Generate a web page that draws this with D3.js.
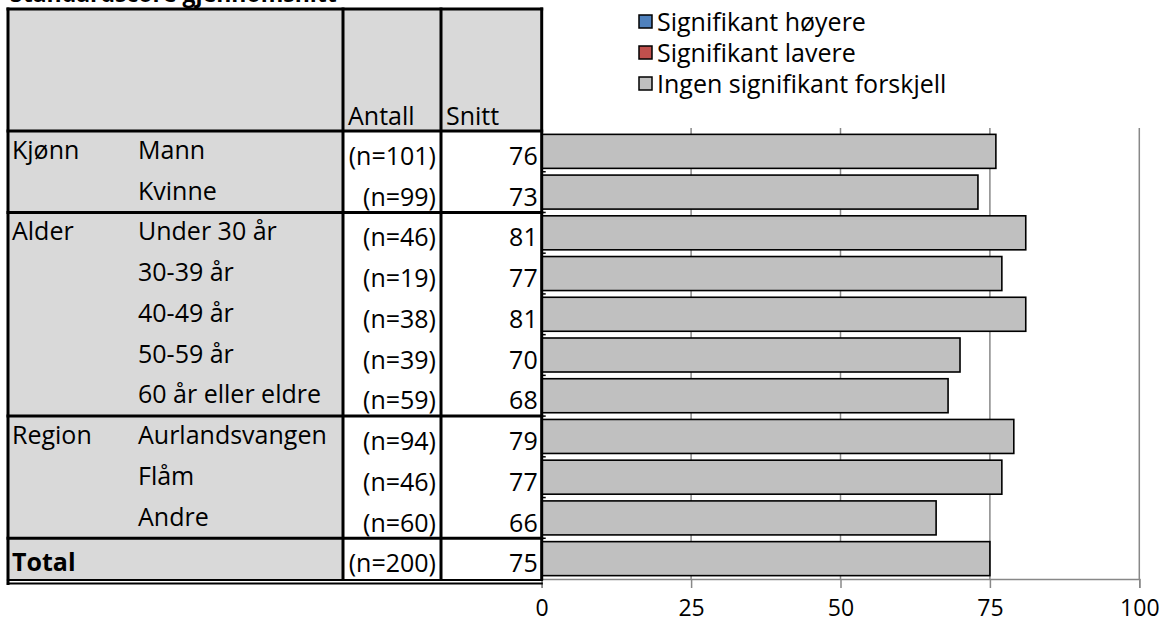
<!DOCTYPE html>
<html>
<head>
<meta charset="utf-8">
<script src="https://cdn.jsdelivr.net/npm/d3@7"></script>
<style>
  html, body { margin: 0; padding: 0; background: #fff; }
  svg { display: block; }
  text { font-family: "Open Sans", "Noto Sans", sans-serif; fill: #000; }
</style>
</head>
<body>
<svg id="chart" width="1162" height="624"></svg>
<script>
// Table and chart data
const groups   = ["Kjønn", "", "Alder", "", "", "", "", "Region", "", "", "Total"];
const labels   = ["Mann", "Kvinne", "Under 30 år", "30-39 år", "40-49 år", "50-59 år", "60 år eller eldre", "Aurlandsvangen", "Flåm", "Andre", ""];
const counts   = [101, 99, 46, 19, 38, 39, 59, 94, 46, 60, 200];
const scores   = [76, 73, 81, 77, 81, 70, 68, 79, 77, 66, 75];
const signif   = ["none", "none", "none", "none", "none", "none", "none", "none", "none", "none", "none"];
const groupEnds = [1, 6, 9];           // last row index of each group before the next one
const xTicks   = [0, 25, 50, 75, 100];
const legendKeys   = ["higher", "lower", "none"];
const legendLabels = ["Signifikant høyere", "Signifikant lavere", "Ingen signifikant forskjell"];
const headers  = ["Antall", "Snitt"];
const title    = "Standardscore gjennomsnitt";

const colors = { higher: "#4f81bd", lower: "#c0504d", none: "#c0c0c0" };

const svg = d3.select("#chart");

// layout
const tableLeft = 8, tableTop = 9, colA = 343, colB = 441;
const rowsTop = 131, rowsBottom = 579;
const idx = d3.range(scores.length);

const x = d3.scaleLinear().domain([0, 100]).range([541.7, 1139.3]);
const tableRight = x(0);
const rowBand = d3.scaleBand().domain(idx).range([rowsTop, rowsBottom]);
const barBand = d3.scaleBand().domain(idx).range([rowsTop, rowsBottom]).paddingInner(0.165).paddingOuter(0.0825);

// title (sits mostly above the top edge)
svg.append("text").attr("x", 10).attr("y", 1.5)
  .style("font-size", "23px").style("font-weight", "bold").text(title);

// table backgrounds
svg.append("rect").attr("x", tableLeft).attr("y", tableTop)
  .attr("width", tableRight - tableLeft).attr("height", rowsTop - tableTop).attr("fill", "#d9d9d9");
svg.append("rect").attr("x", tableLeft).attr("y", rowsTop)
  .attr("width", colA - tableLeft).attr("height", rowsBottom - rowsTop).attr("fill", "#d9d9d9");

// gridlines and x axis
const grid = svg.append("g");
grid.selectAll("line.grid").data(xTicks.filter(t => t > 0)).join("line")
  .attr("x1", d => x(d)).attr("x2", d => x(d))
  .attr("y1", 128).attr("y2", rowsBottom)
  .attr("stroke", "#888").attr("stroke-width", 1.5);

const xAxis = d3.axisBottom(x).tickValues(xTicks).tickSize(9).tickPadding(12).tickFormat(d3.format("d"));
const gx = svg.append("g").attr("transform", `translate(0,${rowsBottom})`).call(xAxis);
gx.select(".domain").attr("stroke", "#888").attr("stroke-width", 1.5);
gx.selectAll(".tick line").attr("stroke", "#888").attr("stroke-width", 1.5);
gx.selectAll(".tick text").style("font-size", "23px").style("font-family", "'Open Sans', sans-serif").attr("fill", "#000");

// small category ticks on the value axis
svg.append("g").selectAll("line").data(d3.range(1, scores.length)).join("line")
  .attr("x1", x(0)).attr("x2", x(0) + 4)
  .attr("y1", d => rowBand(d)).attr("y2", d => rowBand(d))
  .attr("stroke", "#000").attr("stroke-width", 1.5);

// bars
svg.append("g").selectAll("rect").data(idx).join("rect")
  .attr("x", x(0))
  .attr("y", i => barBand(i))
  .attr("width", i => x(scores[i]) - x(0))
  .attr("height", barBand.bandwidth())
  .attr("fill", i => colors[signif[i]])
  .attr("stroke", "#000").attr("stroke-width", 1.6);

// table lines
const border = svg.append("g").attr("stroke", "#000").attr("stroke-width", 3).attr("stroke-linecap", "square");
const hLine = (y, x1, x2, w) => border.append("line").attr("x1", x1).attr("x2", x2).attr("y1", y).attr("y2", y).attr("stroke-width", w || 3);
const vLine = (xv, y1, y2, w) => border.append("line").attr("x1", xv).attr("x2", xv).attr("y1", y1).attr("y2", y2).attr("stroke-width", w || 3);

hLine(tableTop, tableLeft, tableRight);
hLine(rowsTop, tableLeft, tableRight);
groupEnds.forEach(g => hLine(rowBand(g + 1), tableLeft, tableRight));
hLine(rowsBottom + 1, tableLeft, tableRight, 2.2);
hLine(rowsBottom + 4.5, tableLeft, tableRight, 2.2);
vLine(tableLeft, tableTop, rowsBottom + 4.5);
vLine(colA, tableTop, rowsBottom);
vLine(colB, tableTop, rowsBottom);
vLine(tableRight, tableTop, rowsBottom);

// header texts
svg.append("g").selectAll("text").data(headers).join("text")
  .attr("x", (d, i) => (i === 0 ? colA : colB) + 5)
  .attr("y", rowsTop - 6)
  .style("font-size", "25px")
  .text(d => d);

// row texts
const rowsG = svg.append("g").style("font-size", "25px");
rowsG.selectAll("text.group").data(idx.filter(i => groups[i])).join("text")
  .attr("class", "group")
  .attr("x", tableLeft + 4)
  .attr("y", i => rowBand(i) + (i === scores.length - 1 ? 33 : 28))
  .style("font-weight", i => i === scores.length - 1 ? "bold" : "normal")
  .text(i => groups[i]);
rowsG.selectAll("text.label").data(idx.filter(i => labels[i])).join("text")
  .attr("class", "label")
  .attr("x", 138)
  .attr("y", i => rowBand(i) + 28)
  .text(i => labels[i]);
rowsG.selectAll("text.count").data(idx).join("text")
  .attr("class", "count")
  .attr("x", colB - 5)
  .attr("y", i => rowBand(i) + 34)
  .attr("text-anchor", "end")
  .text(i => `(n=${counts[i]})`);
rowsG.selectAll("text.score").data(idx).join("text")
  .attr("class", "score")
  .attr("x", tableRight - 4)
  .attr("y", i => rowBand(i) + 34)
  .attr("text-anchor", "end")
  .text(i => scores[i]);

// legend
const legend = svg.append("g").attr("transform", "translate(639,0)");
const li = legend.selectAll("g").data(legendKeys).join("g")
  .attr("transform", (d, i) => `translate(0,${22 + i * 31})`);
li.append("rect").attr("x", 0).attr("y", -7).attr("width", 13).attr("height", 13)
  .attr("fill", d => colors[d]).attr("stroke", "#000").attr("stroke-width", 1.5);
li.append("text").attr("x", 18).attr("y", 9).style("font-size", "25px")
  .text((d, i) => legendLabels[i]);
</script>
</body>
</html>
